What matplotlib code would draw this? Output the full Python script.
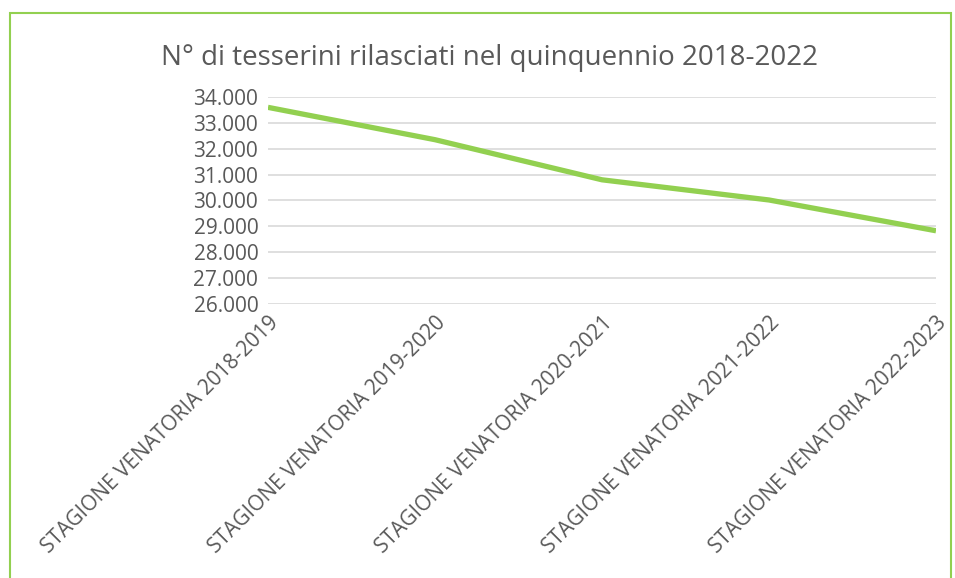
import matplotlib
matplotlib.use('Agg')
import matplotlib.pyplot as plt
import matplotlib.patches as mpatches
from matplotlib.ticker import FuncFormatter

stagioni = ['STAGIONE VENATORIA 2018-2019', 'STAGIONE VENATORIA 2019-2020',
            'STAGIONE VENATORIA 2020-2021', 'STAGIONE VENATORIA 2021-2022',
            'STAGIONE VENATORIA 2022-2023']
tesserini = [33600, 32350, 30800, 30020, 28830]

grey = '#595959'
green = '#92D050'
plt.rcParams['font.family'] = ['Open Sans', 'DejaVu Sans']

fig = plt.figure(figsize=(9.55, 5.78), dpi=100)
# chart border (bottom edge runs off the image)
fig.patches.append(mpatches.Rectangle((9.5/955, -0.05), (951-9.5)/955, 1 - 13.5/578 + 0.05,
                                      transform=fig.transFigure, fill=False,
                                      edgecolor=green, linewidth=1.5))

ax = fig.add_axes([268/955, 1 - 304/578, (936-268)/955, (304-97)/578])
x = list(range(len(stagioni)))
ax.plot(x, tesserini, color=green, linewidth=3.8, solid_capstyle='butt', zorder=3)
ax.set_xlim(0, len(stagioni) - 1)
ax.set_ylim(26000, 34000)
ax.set_yticks(range(26000, 34001, 1000))
ax.yaxis.set_major_formatter(FuncFormatter(lambda v, p: f'{int(v):,}'.replace(',', '.')))
ax.grid(axis='y', color='#d9d9d9', linewidth=1.2)
for s in ax.spines.values():
    s.set_visible(False)
ax.tick_params(axis='both', length=0, colors=grey, labelsize=15)
ax.tick_params(axis='y', pad=7)
ax.set_xticks(x)
ax.set_xticklabels(stagioni, rotation=45, ha='right', va='top', rotation_mode='anchor')
ax.tick_params(axis='x', pad=6)

fig.text(489/955, 1 - 58/578, 'N° di tesserini rilasciati nel quinquennio 2018-2022',
         ha='center', va='center', color=grey, fontsize=20)

fig.savefig('out.png', dpi=100)
